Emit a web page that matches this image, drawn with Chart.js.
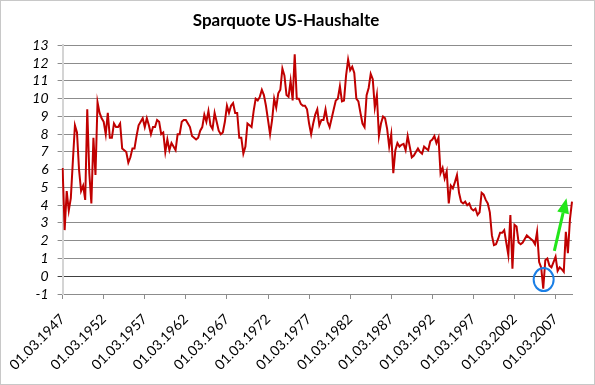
<!DOCTYPE html>
<html>
<head>
<meta charset="utf-8">
<script src="https://cdn.jsdelivr.net/npm/chart.js@4/dist/chart.umd.min.js"></script>
<style>
  html, body { margin: 0; padding: 0; background: #fff; }
  canvas { display: block; }
</style>
</head>
<body>
<canvas id="chartResults" width="595" height="385"></canvas>
<script>
'use strict';

// quarterly values, 1947Q1 .. 2009Q1, one row = 5 years
var sparquote = [
  6.1, 2.6, 4.8, 3.7, 4.4, 6.5, 8.5, 8.1, 6.0, 4.8, 5.1, 4.3, 9.4, 5.8, 4.1, 7.8, 5.7, 9.8, 9.2, 8.9,
  8.7, 8.0, 9.2, 7.8, 7.8, 8.6, 8.4, 8.4, 8.6, 7.2, 7.1, 7.0, 6.4, 6.7, 7.2, 7.2, 7.9, 8.5, 8.7, 8.9,
  8.4, 8.9, 8.5, 8.0, 8.4, 8.4, 8.8, 8.7, 8.0, 8.1, 7.0, 7.7, 7.1, 7.5, 7.3, 7.1, 8.0, 8.0, 8.7, 8.8,
  8.8, 8.6, 8.4, 7.9, 7.8, 7.7, 7.8, 8.2, 8.4, 9.1, 8.7, 9.3, 8.5, 8.3, 9.2, 8.7, 8.2, 8.0, 8.1, 8.7,
  9.6, 9.2, 9.6, 9.75, 9.2, 9.2, 7.8, 7.8, 6.9, 7.3, 8.6, 8.5, 8.4, 9.3, 10.0, 9.9, 10.1, 10.5, 10.2, 9.6,
  8.8, 8.0, 8.8, 10.0, 9.5, 10.3, 10.5, 11.7, 11.3, 10.2, 10.1, 11.0, 9.9, 12.5, 10.0, 10.0, 9.7, 9.6, 9.6, 9.4,
  8.6, 8.0, 8.6, 9.1, 9.4, 8.5, 8.8, 8.8, 9.4, 8.7, 8.4, 8.9, 9.4, 9.9, 10.0, 10.7, 9.85, 9.9, 11.3, 12.2,
  11.6, 11.8, 11.45, 10.0, 9.85, 9.2, 8.6, 8.4, 10.2, 10.6, 11.4, 11.1, 9.5, 10.2, 7.9, 8.6, 9.0, 8.9, 8.3, 7.3,
  8.0, 5.8, 7.1, 7.5, 7.3, 7.4, 7.45, 7.1, 7.9, 7.3, 6.7, 6.8, 7.0, 7.2, 7.0, 6.9, 7.3, 7.2, 7.1, 7.6,
  7.7, 7.9, 7.5, 7.8, 5.8, 6.1, 5.5, 5.9, 4.1, 5.1, 4.95, 5.3, 5.7, 4.7, 4.2, 4.1, 4.2, 4.0, 4.1, 3.8,
  3.7, 3.8, 3.45, 3.6, 4.7, 4.6, 4.3, 4.1, 3.6, 2.3, 1.75, 1.8, 2.1, 2.45, 2.45, 2.6, 1.9, 1.2, 3.45, 0.43,
  2.9, 2.8, 1.9, 1.8, 1.9, 2.1, 2.3, 2.2, 2.1, 2.0, 1.8, 2.5, 0.8, 0.5, -0.7, 0.9, 1.0, 0.6, 0.5, 0.8,
  1.1, 0.3, 0.5, 0.4, 0.25, 2.5, 1.3, 3.2, 4.2
];

var startYear = 1947;
var quarterMonths = ['03', '06', '09', '12'];
var labelEvery = 20; // one label every 5 years

var quarters = [];
for (let i = 0; i < sparquote.length; ++i) {
  quarters.push('01.' + quarterMonths[i % 4] + '.' + (startYear + Math.floor(i / 4)));
}

// markers drawn on top: circle round the low, arrow for the rebound
var lowMark = { x: 234.2, y: -0.19 };
var arrowFrom = { x: 239.4, y: 1.43 };
var arrowTo = { x: 245.3, y: 4.39 };

var extras = {
  id: 'extras',
  beforeDraw: function(chart) {
    var c = chart.ctx;
    c.save();
    c.fillStyle = '#fff';
    c.fillRect(0, 0, chart.width, chart.height);
    c.restore();
  },
  afterDraw: function(chart) {
    var c = chart.ctx;
    var xs = chart.scales.x, ys = chart.scales.y;
    c.save();
    // outer frame
    c.strokeStyle = '#c8c8c8';
    c.lineWidth = 1;
    c.strokeRect(0.5, 0.5, chart.width - 1, chart.height - 1);

    // blue ellipse
    c.strokeStyle = '#1a7fe6';
    c.lineWidth = 2;
    c.beginPath();
    c.ellipse(xs.getPixelForValue(lowMark.x), ys.getPixelForValue(lowMark.y), 10, 11.5, 0, 0, Math.PI * 2);
    c.stroke();

    // green arrow
    var x1 = xs.getPixelForValue(arrowFrom.x), y1 = ys.getPixelForValue(arrowFrom.y);
    var x2 = xs.getPixelForValue(arrowTo.x), y2 = ys.getPixelForValue(arrowTo.y);
    var a = Math.atan2(y2 - y1, x2 - x1);
    var head = 15, half = 6;
    var bx = x2 - head * Math.cos(a), by = y2 - head * Math.sin(a);
    c.strokeStyle = '#22e61a';
    c.fillStyle = '#22e61a';
    c.lineWidth = 3;
    c.beginPath();
    c.moveTo(x1, y1);
    c.lineTo(bx, by);
    c.stroke();
    c.beginPath();
    c.moveTo(x2, y2);
    c.lineTo(bx + half * Math.sin(a), by - half * Math.cos(a));
    c.lineTo(bx - half * Math.sin(a), by + half * Math.cos(a));
    c.closePath();
    c.fill();
    c.restore();
  }
};

var ctx = document.getElementById('chartResults').getContext('2d');
var chart = new Chart(ctx, {
  type: 'line',
  data: {
    labels: quarters,
    datasets: [{
      data: sparquote,
      borderColor: '#c00000',
      borderWidth: 2,
      pointRadius: 0,
      tension: 0,
      fill: false
    }]
  },
  options: {
    responsive: false,
    animation: false,
    layout: { padding: { left: 0, right: 23, top: 0, bottom: 0 } },
    plugins: {
      legend: { display: false },
      tooltip: { enabled: false },
      title: {
        display: true,
        text: 'Sparquote US-Haushalte',
        color: '#000',
        font: { family: 'Lato', size: 17, weight: 'bold' },
        padding: { top: 10, bottom: 15 }
      }
    },
    scales: {
      x: {
        type: 'category',
        grid: { display: true, drawOnChartArea: false, drawTicks: true, tickLength: 5, color: '#8c8c8c' },
        border: { color: '#8c8c8c', width: 1 },
        ticks: {
          autoSkip: false,
          maxRotation: 45,
          minRotation: 45,
          color: '#000',
          padding: 12,
          font: { family: 'Lato', size: 14 },
          callback: function(v, i) {
            return i % labelEvery === 0 ? this.getLabelForValue(v) : null;
          }
        },
        afterFit: function(s) { s.height = 91; }
      },
      y: {
        min: -1,
        max: 13,
        ticks: {
          stepSize: 1,
          autoSkip: false,
          color: '#000',
          padding: 9,
          font: { family: 'Lato', size: 14, style: 'italic' }
        },
        grid: {
          tickLength: 5,
          color: function(c) { return c.tick.value === 0 ? '#404040' : '#8c8c8c'; }
        },
        border: { color: '#d4d4d4', width: 2 },
        afterFit: function(s) { s.width = 61; }
      }
    }
  },
  plugins: [extras]
});
</script>
</body>
</html>
